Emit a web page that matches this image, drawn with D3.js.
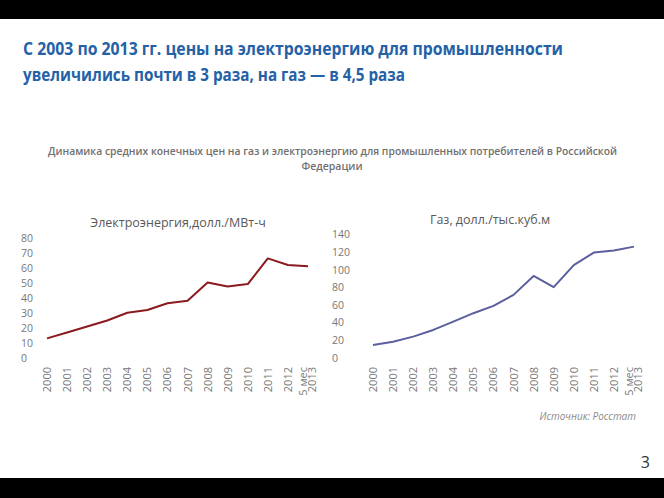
<!DOCTYPE html>
<html>
<head>
<meta charset="utf-8">
<script src="https://cdn.jsdelivr.net/npm/d3@7"></script>
<style>
  html, body { margin: 0; padding: 0; background: #fff; }
  svg { display: block; }
</style>
</head>
<body>
<svg id="chart" width="664" height="498"></svg>
<script>
// годы по оси X (последняя точка — 5 мес 2013)
const years = ["2000","2001","2002","2003","2004","2005","2006","2007","2008","2009","2010","2011","2012","5 мес|2013"];
// электроэнергия, долл./МВт-ч
const elecValues = [13.1, 17, 21, 25, 30.2, 32, 36.5, 38.2, 50.4, 47.6, 49.3, 66.4, 62, 61.1];
// газ, долл./тыс.куб.м
const gasValues = [14.4, 18.2, 23.9, 31.5, 40.9, 50.5, 58.8, 71.3, 92.8, 80, 105, 119.3, 121.6, 126];
const elecTicks = [0, 10, 20, 30, 40, 50, 60, 70, 80];
const gasTicks = [0, 20, 40, 60, 80, 100, 120, 140];

const svg = d3.select("#chart");
const font = "'Open Sans', 'DejaVu Sans', sans-serif";

// чёрные полосы сверху и снизу
svg.append("rect").attr("x", 0).attr("y", 0).attr("width", 664).attr("height", 19).attr("fill", "#000");
svg.append("rect").attr("x", 0).attr("y", 478).attr("width", 664).attr("height", 20).attr("fill", "#000");

// заголовок слайда
const titleLines = [
    {t: "С 2003 по 2013 гг. цены на электроэнергию для промышленности", y: 55, w: 540},
    {t: "увеличились почти в 3 раза, на газ — в 4,5 раза", y: 81, w: 382}
];
titleLines.forEach(function(l) {
    svg.append("text")
        .attr("x", 23).attr("y", l.y)
        .attr("textLength", l.w).attr("lengthAdjust", "spacingAndGlyphs")
        .style("font-family", font).style("font-size", "17.5px").style("font-weight", "bold")
        .style("fill", "#2461a6")
        .text(l.t);
});

// подзаголовок
svg.append("text")
    .attr("x", 48).attr("y", 155)
    .attr("textLength", 569).attr("lengthAdjust", "spacingAndGlyphs")
    .style("font-family", font).style("font-size", "10.5px").style("font-weight", "600")
    .style("fill", "#707070")
    .text("Динамика средних конечных цен на газ и электроэнергию для промышленных потребителей в Российской");
svg.append("text")
    .attr("x", 332).attr("y", 170).attr("text-anchor", "middle")
    .style("font-family", font).style("font-size", "10.5px").style("font-weight", "600")
    .style("fill", "#707070")
    .text("Федерации");

/**
 * Рисует один линейный график
 */
function drawChart(opt) {
    const g = svg.append("g");

    const x = d3.scalePoint().domain(years).range([opt.x0, opt.x1]);
    const y = d3.scaleLinear().domain([0, opt.yMax]).range([opt.y0, opt.y1]);

    // название графика
    g.append("text")
        .attr("x", opt.titleX).attr("y", opt.titleY).attr("text-anchor", "middle")
        .style("font-family", font).style("font-size", "12.5px")
        .style("fill", "#595959")
        .text(opt.title);

    // подписи оси Y
    g.selectAll(".ylab").data(opt.ticks).enter().append("text")
        .attr("class", "ylab")
        .attr("x", opt.labelX)
        .attr("y", function(d) { return y(d) + 4; })
        .style("font-family", font).style("font-size", "10.5px")
        .style("fill", "#777")
        .text(function(d) { return d; });

    // подписи оси X (повёрнутые)
    const xl = g.selectAll(".xlab").data(years).enter().append("text")
        .attr("class", "xlab")
        .attr("transform", function(d) { return "translate(" + x(d) + ",367) rotate(-90)"; })
        .attr("text-anchor", "end")
        .style("font-family", font).style("font-size", "11px")
        .style("fill", "#777");
    xl.each(function(d) {
        const parts = d.split("|");
        const t = d3.select(this);
        if (parts.length === 1) {
            t.append("tspan").attr("x", 0).attr("dy", 4).text(parts[0]);
        } else {
            t.append("tspan").attr("x", 0).attr("dy", -1.5).text(parts[0]);
            t.append("tspan").attr("x", 0).attr("dy", 9).text(parts[1]);
        }
    });

    // линия
    const line = d3.line()
        .x(function(d, i) { return x(years[i]); })
        .y(function(d) { return y(d); });
    g.append("path")
        .datum(opt.values)
        .attr("d", line)
        .style("fill", "none")
        .style("stroke", opt.color)
        .style("stroke-width", 2)
        .style("stroke-linejoin", "round");
}

drawChart({
    title: "Электроэнергия,долл./МВт-ч", titleX: 178, titleY: 227,
    values: elecValues, ticks: elecTicks, yMax: 80,
    x0: 47, x1: 308, y0: 358, y1: 238, labelX: 21,
    color: "#8b1a1f"
});

drawChart({
    title: "Газ, долл./тыс.куб.м", titleX: 490, titleY: 224,
    values: gasValues, ticks: gasTicks, yMax: 140,
    x0: 373, x1: 634, y0: 357.7, y1: 234.3, labelX: 332,
    color: "#5b5f9e"
});

// источник
svg.append("text")
    .attr("x", 636).attr("y", 420).attr("text-anchor", "end")
    .style("font-family", font).style("font-size", "10px").style("font-style", "italic")
    .style("fill", "#8a8a8a")
    .text("Источник: Росстат");

// номер слайда
svg.append("text")
    .attr("x", 650).attr("y", 468).attr("text-anchor", "end")
    .style("font-family", font).style("font-size", "16px")
    .style("fill", "#333")
    .text("3");
</script>
</body>
</html>
